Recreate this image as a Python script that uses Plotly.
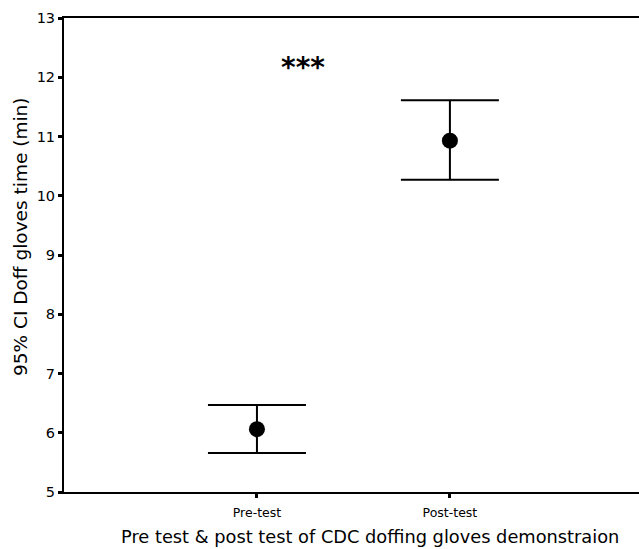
import plotly.graph_objects as go

categories = ["Pre-test", "Post-test"]
means = [6.06, 10.93]
ci_low = [5.66, 10.27]
ci_high = [6.47, 11.61]
y_ticks = [5, 6, 7, 8, 9, 10, 11, 12, 13]
annotation_text = "***"
x_title = "Pre test &amp; post test of CDC doffing gloves demonstraion"
y_title = "95% CI Doff gloves time (min)"

positions = list(range(1, len(categories) + 1))
err_plus = [h - m for h, m in zip(ci_high, means)]
err_minus = [m - l for m, l in zip(means, ci_low)]

fig = go.Figure()
fig.add_trace(go.Scatter(
    x=positions, y=means, mode="markers",
    marker=dict(size=16, color="black"),
    error_y=dict(type="data", symmetric=False, array=err_plus, arrayminus=err_minus,
                 color="black", thickness=2, width=49),
    showlegend=False,
))

fig.add_annotation(x=1.24, y=12.17, text="<b>" + annotation_text + "</b>", showarrow=False,
                   font=dict(size=28, color="black", family="DejaVu Sans"))

# axis titles (placed as in the reference, slightly off-centre)
fig.add_annotation(xref="paper", yref="paper", x=0.533, y=0, yanchor="middle",
                   yshift=-44, text=x_title, showarrow=False,
                   font=dict(size=17.8, color="black", family="DejaVu Sans"))
fig.add_annotation(xref="paper", yref="paper", x=0, y=0.538, xanchor="center",
                   xshift=-43, text=y_title, showarrow=False, textangle=-90,
                   font=dict(size=18.5, color="black", family="DejaVu Sans"))

fig.update_layout(
    width=639, height=549,
    margin=dict(l=64, r=0, t=18, b=57),
    paper_bgcolor="white", plot_bgcolor="white",
    font=dict(family="DejaVu Sans", color="black"),
    xaxis=dict(range=[0, 2.98], tickvals=positions, ticktext=categories,
               showline=True, linecolor="black", linewidth=2, mirror=True,
               ticks="outside", ticklen=4, tickwidth=3, tickcolor="black",
               showgrid=False, zeroline=False, tickfont=dict(size=12.5),
               ticklabelstandoff=4, automargin=False),
    yaxis=dict(range=[5, 13], tickvals=y_ticks,
               showline=True, linecolor="black", linewidth=2,
               ticks="outside", ticklen=4, tickwidth=3, tickcolor="black",
               showgrid=False, zeroline=False, tickfont=dict(size=14.5),
               automargin=False),
)

fig.write_html(
    "out.html",
    config={"displayModeBar": False},
    post_script="document.body.style.margin='0';"
                "document.documentElement.style.overflow='hidden';"
                "document.body.style.overflow='hidden';",
)
